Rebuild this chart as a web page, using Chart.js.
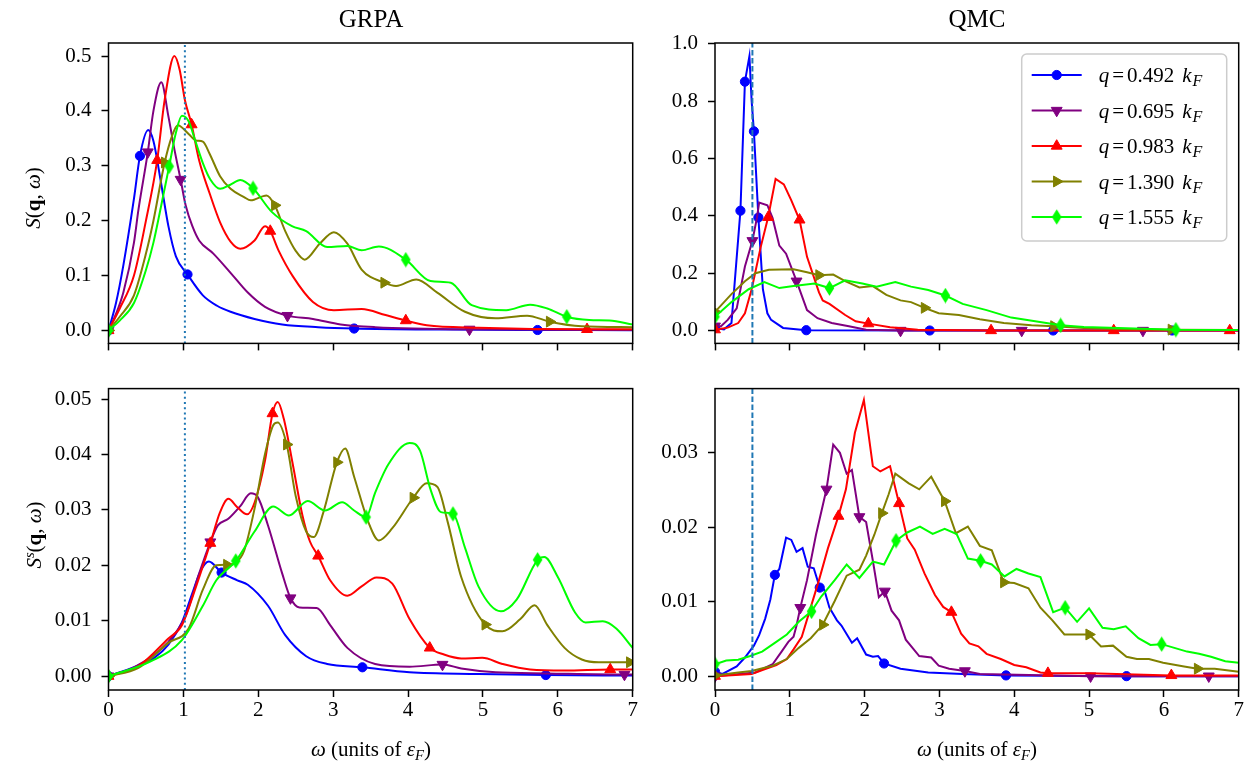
<!DOCTYPE html>
<html>
<head>
<meta charset="utf-8">
<script src="https://cdn.jsdelivr.net/npm/chart.js@4.4.1/dist/chart.umd.min.js"></script>
<style>
body { margin: 0; background: #fff; width: 1246px; height: 762px; position: relative; overflow: hidden; font-family: "Liberation Serif", serif; }
canvas { position: absolute; }
.t { position: absolute; font-size: 21px; line-height: 1; white-space: nowrap; transform: translate(-50%, -50%); color: #000; }
.rot { transform: translate(-50%, -50%) rotate(-90deg); }
.sub { font-size: 0.7em; position: relative; top: 0.25em; }
.sup { font-size: 0.7em; position: relative; top: -0.45em; }
</style>
</head>
<body>
<canvas id="cTL" width="640" height="366" style="left:0;top:0"></canvas>
<canvas id="cTR" width="606" height="366" style="left:640px;top:0"></canvas>
<canvas id="cBL" width="640" height="396" style="left:0;top:366px"></canvas>
<canvas id="cBR" width="606" height="396" style="left:640px;top:366px"></canvas>

<div class="t" style="left:371px;top:18px;font-size:25px">GRPA</div>
<div class="t" style="left:977px;top:18px;font-size:25px">QMC</div>
<div class="t" style="left:371px;top:749px"><i>ω</i> (units of <i>ε</i><span class="sub"><i>F</i></span>)</div>
<div class="t" style="left:977px;top:749px"><i>ω</i> (units of <i>ε</i><span class="sub"><i>F</i></span>)</div>
<div class="t rot" style="left:33px;top:198px"><i>S</i>(<b>q</b>, <i>ω</i>)</div>
<div class="t rot" style="left:34px;top:535px"><i>S</i><span class="sup"><i>s</i></span>(<b>q</b>, <i>ω</i>)</div>

<script>
// tick values
const xTicks = [0, 1, 2, 3, 4, 5, 6, 7]
const yTicksGrpaS = [0, 0.1, 0.2, 0.3, 0.4, 0.5]
const yTicksQmcS = [0, 0.2, 0.4, 0.6, 0.8, 1.0]
const yTicksGrpaSs = [0, 0.01, 0.02, 0.03, 0.04, 0.05]
const yTicksQmcSs = [0, 0.01, 0.02, 0.03]
const qLabels = ['0.492', '0.695', '0.983', '1.390', '1.555']
const vlineGrpa = 1.02
const vlineQmc = 0.5

// GRPA S(q,w)
const grpaS_0492 = [[0,0],[0.1,0.05],[0.2,0.12],[0.34,0.24],[0.42,0.318],[0.53,0.365],[0.6,0.345],[0.7,0.27],[0.8,0.19],[0.9,0.135],[1.055,0.102],[1.26,0.064],[1.45,0.045],[1.63,0.034],[1.95,0.021],[2.32,0.011],[2.8,0.006],[3.28,0.0035],[4.5,0.0015],[5.73,0.0008],[7,0.0005]]
const grpaS_0492_mk = [0, 0.42, 1.055, 3.28, 5.73]
const grpaS_0695 = [[0,0],[0.1,0.03],[0.2,0.07],[0.34,0.16],[0.4,0.22],[0.525,0.325],[0.6,0.40],[0.705,0.452],[0.8,0.39],[0.88,0.33],[0.963,0.275],[1.03,0.228],[1.12,0.19],[1.21,0.164],[1.40,0.14],[1.63,0.105],[1.86,0.069],[2.09,0.043],[2.39,0.027],[2.73,0.021],[3.10,0.011],[3.56,0.006],[4.82,0.002],[7,0.001]]
const grpaS_0695_mk = [0, 0.525, 0.963, 2.39, 4.82]
const grpaS_0983 = [[0,0],[0.15,0.04],[0.34,0.1],[0.5,0.2],[0.65,0.31],[0.75,0.42],[0.88,0.5],[0.95,0.475],[1.02,0.42],[1.11,0.375],[1.21,0.31],[1.35,0.25],[1.49,0.197],[1.63,0.162],[1.76,0.149],[1.95,0.164],[2.09,0.19],[2.16,0.181],[2.27,0.146],[2.46,0.099],[2.73,0.052],[3.01,0.037],[3.38,0.039],[3.70,0.028],[3.97,0.018],[4.25,0.0094],[4.94,0.005],[6.39,0.002],[7,0.002]]
const grpaS_0983_mk = [0, 0.65, 1.11, 2.16, 3.97, 6.39]
const grpaS_1390 = [[0,0],[0.15,0.025],[0.34,0.064],[0.5,0.14],[0.6,0.2],[0.75,0.306],[0.85,0.355],[0.925,0.374],[1.07,0.358],[1.17,0.346],[1.26,0.344],[1.35,0.322],[1.49,0.281],[1.63,0.258],[1.81,0.243],[1.90,0.237],[2.11,0.246],[2.22,0.228],[2.36,0.181],[2.50,0.145],[2.62,0.129],[2.82,0.158],[3.01,0.179],[3.19,0.158],[3.38,0.111],[3.68,0.087],[3.84,0.081],[4.11,0.093],[4.39,0.069],[4.76,0.034],[5.17,0.022],[5.59,0.027],[5.89,0.016],[6.32,0.0076],[7,0.006]]
const grpaS_1390_mk = [0, 0.75, 2.22, 3.68, 5.89]
const grpaS_1555 = [[0,0],[0.15,0.018],[0.34,0.05],[0.5,0.11],[0.6,0.16],[0.7,0.225],[0.81,0.299],[0.9,0.36],[0.98,0.391],[1.07,0.381],[1.16,0.345],[1.26,0.305],[1.36,0.275],[1.49,0.258],[1.62,0.265],[1.76,0.274],[1.93,0.259],[2.18,0.216],[2.45,0.19],[2.64,0.181],[2.92,0.152],[3.19,0.154],[3.38,0.146],[3.61,0.153],[3.97,0.129],[4.30,0.09],[4.57,0.087],[4.85,0.046],[5.31,0.037],[5.63,0.047],[5.86,0.04],[6.12,0.025],[6.42,0.019],[6.69,0.018],[7,0.011]]
const grpaS_1555_mk = [0, 0.81, 1.93, 3.97, 6.12]

// QMC S(q,w)
const qmcS_0492 = [[0,0.009],[0.12,0.004],[0.22,0.026],[0.34,0.418],[0.40,0.868],[0.46,0.957],[0.49,0.80],[0.52,0.695],[0.58,0.394],[0.64,0.144],[0.70,0.06],[0.75,0.037],[0.91,0.009],[1.22,0.001],[2.87,0],[4.52,0],[6.11,0],[7,0]]
const qmcS_0492_mk = [0, 0.34, 0.40, 0.52, 0.58, 1.22, 2.87, 4.52, 6.11]
const qmcS_0695 = [[0,0.015],[0.08,0.015],[0.17,0.037],[0.29,0.077],[0.40,0.223],[0.50,0.313],[0.56,0.392],[0.59,0.446],[0.70,0.437],[0.77,0.392],[0.86,0.296],[0.95,0.268],[1.09,0.172],[1.23,0.071],[1.37,0.043],[1.56,0.026],[1.79,0.015],[2.02,0.003],[2.48,0],[4.10,0],[5.72,0],[7,0]]
const qmcS_0695_mk = [0, 0.50, 1.09, 2.48, 4.10, 5.72]
const qmcS_0983 = [[0,0.003],[0.17,0.01],[0.31,0.026],[0.40,0.06],[0.49,0.144],[0.61,0.29],[0.71,0.395],[0.81,0.529],[0.92,0.51],[1.02,0.454],[1.13,0.386],[1.23,0.257],[1.39,0.133],[1.44,0.105],[1.53,0.093],[1.74,0.054],[1.88,0.032],[2.05,0.024],[2.34,0.011],[2.71,0.003],[3.69,0],[5.33,0],[6.88,0],[7,0]]
const qmcS_0983_mk = [0, 0.71, 1.13, 2.05, 3.69, 5.33, 6.88]
const qmcS_1390 = [[0,0.065],[0.22,0.127],[0.40,0.172],[0.54,0.2],[0.72,0.212],[1.05,0.214],[1.23,0.203],[1.39,0.193],[1.58,0.195],[1.74,0.172],[1.93,0.15],[2.11,0.155],[2.29,0.124],[2.48,0.105],[2.62,0.099],[2.80,0.079],[2.99,0.06],[3.26,0.054],[3.54,0.039],[3.86,0.026],[4.23,0.018],[4.53,0.015],[4.93,0.009],[5.39,0.005],[6.1,0.003],[7,0.002]]
const qmcS_1390_mk = [0, 1.39, 2.80, 4.53, 6.1]
const qmcS_1555 = [[0,0.048],[0.22,0.099],[0.45,0.144],[0.66,0.169],[0.86,0.148],[1.05,0.155],[1.33,0.164],[1.53,0.148],[1.74,0.175],[1.97,0.164],[2.16,0.153],[2.41,0.169],[2.62,0.153],[2.85,0.141],[3.08,0.122],[3.31,0.093],[3.63,0.071],[3.96,0.045],[4.28,0.032],[4.62,0.018],[4.93,0.012],[5.39,0.009],[6.16,0.003],[7,0.002]]
const qmcS_1555_mk = [0, 1.53, 3.08, 4.62, 6.16]

// GRPA S^s(q,w)
const grpaSs_0492 = [[0,0],[0.34,0.0016],[0.61,0.0033],[0.80,0.0057],[0.98,0.0097],[1.12,0.015],[1.23,0.019],[1.34,0.0207],[1.51,0.0187],[1.72,0.0173],[1.86,0.0165],[2.13,0.0127],[2.36,0.0074],[2.64,0.0036],[2.92,0.0022],[3.39,0.0016],[4.02,0.0007],[4.94,0.0004],[5.84,0.0002],[7,0.0001]]
const grpaSs_0492_mk = [0, 1.51, 3.39, 5.84]
const grpaSs_0695 = [[0,0],[0.34,0.0016],[0.80,0.0062],[1.03,0.0109],[1.21,0.0185],[1.36,0.0242],[1.46,0.0272],[1.60,0.0284],[1.76,0.0307],[1.90,0.033],[1.99,0.0324],[2.13,0.0272],[2.32,0.0185],[2.43,0.0141],[2.55,0.0124],[2.78,0.0123],[2.96,0.0092],[3.19,0.0051],[3.56,0.0022],[4.02,0.0017],[4.46,0.0021],[4.71,0.0014],[5.17,0.0007],[5.86,0.0005],[6.89,0.0003],[7,0.0003]]
const grpaSs_0695_mk = [0, 1.36, 2.43, 4.46, 6.89]
const grpaSs_0983 = [[0,0],[0.4,0.0018],[0.8,0.0068],[0.98,0.0092],[1.17,0.0162],[1.36,0.024],[1.49,0.0296],[1.60,0.032],[1.72,0.0305],[1.85,0.0292],[1.95,0.0313],[2.09,0.0389],[2.19,0.0474],[2.26,0.0495],[2.34,0.0465],[2.46,0.0383],[2.59,0.029],[2.69,0.0243],[2.80,0.0217],[2.96,0.0173],[3.19,0.0145],[3.38,0.0162],[3.58,0.0178],[3.79,0.0167],[4.02,0.0103],[4.29,0.0051],[4.48,0.0039],[4.71,0.0032],[4.99,0.0033],[5.26,0.0022],[5.63,0.0012],[6.09,0.001],[6.70,0.0012],[7,0.0012]]
const grpaSs_0983_mk = [0, 1.36, 2.19, 2.80, 4.29, 6.70]
const grpaSs_1390 = [[0,0],[0.4,0.0015],[0.8,0.006],[1.07,0.0086],[1.26,0.0156],[1.44,0.02],[1.58,0.0201],[1.70,0.0205],[1.81,0.0226],[1.95,0.0302],[2.09,0.0401],[2.20,0.0453],[2.26,0.0458],[2.38,0.0418],[2.50,0.0325],[2.64,0.0261],[2.74,0.0251],[2.87,0.0296],[3.05,0.0386],[3.16,0.0411],[3.28,0.036],[3.47,0.0278],[3.61,0.0245],[3.79,0.0267],[4.07,0.0322],[4.25,0.0348],[4.39,0.0342],[4.53,0.0278],[4.71,0.0179],[5.03,0.0093],[5.26,0.0081],[5.50,0.0103],[5.69,0.0128],[5.86,0.0092],[6.09,0.0051],[6.32,0.003],[6.55,0.0025],[6.96,0.0025],[7,0.0025]]
const grpaSs_1390_mk = [0, 1.58, 2.38, 3.05, 4.07, 5.03, 6.96]
const grpaSs_1555 = [[0,0],[0.57,0.0027],[0.98,0.0065],[1.26,0.0127],[1.44,0.0173],[1.70,0.0208],[1.95,0.0261],[2.20,0.0306],[2.41,0.029],[2.66,0.0316],[2.89,0.0299],[3.12,0.0314],[3.28,0.0299],[3.44,0.0287],[3.56,0.0331],[3.74,0.0383],[4.02,0.0421],[4.16,0.0407],[4.30,0.0337],[4.44,0.0296],[4.60,0.0293],[4.76,0.0232],[4.94,0.0162],[5.24,0.0117],[5.45,0.0138],[5.73,0.021],[5.82,0.0215],[6.00,0.0179],[6.23,0.0115],[6.37,0.0097],[6.60,0.0099],[6.78,0.0086],[7,0.0051]]
const grpaSs_1555_mk = [0, 1.70, 3.44, 4.60, 5.73]

// QMC S^s(q,w)
const qmcSs_0492 = [[0,0.0006],[0.1,0.0003],[0.29,0.0013],[0.40,0.0025],[0.52,0.0041],[0.59,0.0055],[0.67,0.0077],[0.74,0.0103],[0.80,0.0136],[0.86,0.0144],[0.95,0.0186],[1.02,0.0183],[1.09,0.0167],[1.17,0.0172],[1.24,0.0147],[1.32,0.0145],[1.40,0.0119],[1.46,0.0116],[1.53,0.0092],[1.63,0.0075],[1.69,0.0068],[1.83,0.0045],[1.90,0.0051],[2.02,0.0029],[2.11,0.0026],[2.18,0.0027],[2.26,0.0017],[2.48,0.001],[2.85,0.0005],[3.31,0.0003],[3.89,0.0001],[5.50,0],[7,0]]
const qmcSs_0492_mk = [0, 0.80, 1.40, 2.26, 3.89, 5.50]
const qmcSs_0695 = [[0,0],[0.54,0.0005],[0.77,0.0016],[0.89,0.0033],[0.98,0.0046],[1.05,0.0053],[1.09,0.0068],[1.14,0.0092],[1.23,0.0129],[1.35,0.019],[1.49,0.0251],[1.58,0.0311],[1.67,0.03],[1.76,0.0272],[1.83,0.0277],[1.93,0.0214],[2.02,0.0207],[2.11,0.0155],[2.19,0.0106],[2.27,0.0114],[2.36,0.0088],[2.46,0.0075],[2.55,0.0049],[2.64,0.0038],[2.73,0.0027],[2.89,0.0025],[2.99,0.0014],[3.13,0.001],[3.34,0.0007],[3.54,0.0003],[5.02,0],[6.60,0],[7,0]]
const qmcSs_0695_mk = [0, 1.14, 1.49, 1.93, 2.27, 3.34, 5.02, 6.60]
const qmcSs_0983 = [[0,0],[0.49,0.0003],[0.68,0.001],[0.82,0.0015],[0.96,0.0023],[1.05,0.0036],[1.16,0.0053],[1.26,0.0086],[1.39,0.0129],[1.51,0.0172],[1.65,0.0215],[1.75,0.0251],[1.87,0.0327],[1.99,0.0371],[2.11,0.0282],[2.21,0.0275],[2.34,0.0282],[2.46,0.0232],[2.57,0.0185],[2.67,0.017],[2.80,0.0138],[2.94,0.0109],[3.05,0.0093],[3.16,0.0086],[3.29,0.0057],[3.40,0.0044],[3.52,0.004],[3.63,0.003],[3.82,0.0023],[4.00,0.0015],[4.16,0.0012],[4.35,0.0005],[4.45,0.0004],[5.0,0.0004],[6.10,0.0001],[7,0.0001]]
const qmcSs_0983_mk = [0, 1.65, 2.46, 3.16, 4.45, 6.10]
const qmcSs_1390 = [[0,0.0001],[0.31,0.0005],[0.49,0.0007],[0.77,0.0014],[0.96,0.0023],[1.12,0.0038],[1.28,0.0051],[1.44,0.0069],[1.60,0.0101],[1.76,0.0135],[1.93,0.0143],[2.02,0.0162],[2.13,0.019],[2.23,0.0219],[2.32,0.0244],[2.41,0.0272],[2.59,0.0259],[2.73,0.0251],[2.89,0.0268],[3.07,0.0235],[3.22,0.0192],[3.38,0.0201],[3.54,0.0175],[3.70,0.0169],[3.86,0.0126],[4.00,0.0125],[4.19,0.0118],[4.35,0.0092],[4.51,0.0075],[4.67,0.0056],[4.88,0.0056],[5.00,0.0056],[5.16,0.004],[5.32,0.0041],[5.50,0.0026],[5.64,0.0023],[5.80,0.0023],[5.99,0.0018],[6.27,0.0013],[6.45,0.001],[6.68,0.001],[7,0.0006]]
const qmcSs_1390_mk = [0, 1.44, 2.23, 3.07, 3.86, 5.00, 6.45]
const qmcSs_1555 = [[0,0.0016],[0.15,0.0021],[0.31,0.0022],[0.47,0.0027],[0.63,0.0033],[0.79,0.0044],[0.96,0.0056],[1.12,0.0073],[1.29,0.0087],[1.42,0.0107],[1.60,0.0129],[1.76,0.015],[1.93,0.0132],[2.11,0.0154],[2.26,0.015],[2.42,0.0182],[2.57,0.0193],[2.74,0.0201],[2.91,0.0191],[3.07,0.0198],[3.23,0.0191],[3.38,0.0158],[3.55,0.0155],[3.70,0.015],[3.87,0.0134],[4.03,0.0144],[4.19,0.0138],[4.35,0.0133],[4.52,0.0086],[4.68,0.0092],[4.84,0.0073],[5.00,0.0091],[5.18,0.0065],[5.33,0.0063],[5.49,0.0067],[5.66,0.0051],[5.82,0.0042],[5.97,0.0043],[6.14,0.0038],[6.31,0.0033],[6.47,0.003],[6.63,0.0026],[6.82,0.002],[7,0.0018]]
const qmcSs_1555_mk = [0, 1.29, 2.42, 3.55, 4.68, 5.97]

const colors = ['#0000ff', '#800080', '#ff0000', '#808000', '#00ff00']
const font = { family: '"Liberation Serif", serif', size: 21 }

// thin diamond marker like matplotlib 'd'
function thinDiamond(color) {
    const c = document.createElement('canvas')
    c.width = 11; c.height = 16
    const g = c.getContext('2d')
    g.fillStyle = color
    g.beginPath()
    g.moveTo(5.5, 0.3); g.lineTo(10.3, 8); g.lineTo(5.5, 15.7); g.lineTo(0.7, 8)
    g.closePath(); g.fill()
    return c
}
const markers = [
    { style: 'circle', rot: 0, r: 4.6 },
    { style: 'triangle', rot: 180, r: 6.3 },
    { style: 'triangle', rot: 0, r: 6.3 },
    { style: 'triangle', rot: 90, r: 6.3 },
    { style: thinDiamond(colors[4]), rot: 0, r: 5 }
]

function lineSet(pts, marks, i, smooth) {
    const m = markers[i]
    return {
        data: pts.map(p => ({ x: p[0], y: p[1] })),
        borderColor: colors[i],
        backgroundColor: colors[i],
        borderWidth: 2,
        pointStyle: m.style,
        pointRotation: m.rot,
        pointRadius: c => (c.raw && marks.includes(c.raw.x)) ? m.r : 0,
        pointHoverRadius: 0,
        pointBackgroundColor: colors[i],
        pointBorderColor: colors[i],
        pointBorderWidth: 1,
        cubicInterpolationMode: smooth ? 'monotone' : 'default',
        tension: 0,
        order: 10 - i
    }
}

function vline(x, yMin, yMax, dash) {
    return {
        data: [{ x: x, y: yMin }, { x: x, y: yMax }],
        borderColor: '#1f77b4',
        borderWidth: 2,
        borderDash: dash,
        pointRadius: 0,
        order: -1
    }
}

const framePlugin = {
    id: 'frame',
    afterDatasetsDraw(chart) {
        const { ctx, chartArea: a } = chart
        ctx.save()
        ctx.strokeStyle = '#000'
        ctx.lineWidth = 1.5
        ctx.strokeRect(a.left, a.top, a.right - a.left, a.bottom - a.top)
        ctx.restore()
    }
}

const legendPlugin = {
    id: 'qlegend',
    afterDraw(chart) {
        const ctx = chart.ctx, a = chart.chartArea
        const w = 205, h = 187
        const x0 = a.right - 12 - w, y0 = a.top + 11
        ctx.save()
        ctx.beginPath()
        ctx.roundRect(x0, y0, w, h, 5)
        ctx.fillStyle = 'rgba(255,255,255,0.8)'
        ctx.fill()
        ctx.strokeStyle = '#cccccc'
        ctx.lineWidth = 1.5
        ctx.stroke()
        qLabels.forEach((lab, i) => {
            const y = y0 + 21 + i * 35.5
            ctx.strokeStyle = colors[i]
            ctx.fillStyle = colors[i]
            ctx.lineWidth = 2
            ctx.beginPath()
            ctx.moveTo(x0 + 10, y); ctx.lineTo(x0 + 60, y)
            ctx.stroke()
            const m = markers[i]
            ctx.lineWidth = 1
            Chart.helpers.drawPoint(ctx, { pointStyle: m.style, rotation: m.rot, radius: m.r, borderWidth: 1 }, x0 + 35, y)
            ctx.fillStyle = '#000'
            ctx.textBaseline = 'alphabetic'
            const base = y + 7
            let tx = x0 + 77
            ctx.font = 'italic 21px "Liberation Serif"'
            ctx.fillText('q', tx, base)
            tx += ctx.measureText('q').width + 3
            ctx.font = '21px "Liberation Serif"'
            ctx.fillText('=', tx, base)
            tx += ctx.measureText('=').width + 3
            ctx.fillText(lab, tx, base)
            tx += ctx.measureText(lab).width + 8
            ctx.font = 'italic 21px "Liberation Serif"'
            ctx.fillText('k', tx, base)
            tx += ctx.measureText('k').width + 1
            ctx.font = 'italic 16px "Liberation Serif"'
            ctx.fillText('F', tx, base + 4)
        })
        ctx.restore()
    }
}

function makeChart(id, datasets, o) {
    return new Chart(document.getElementById(id), {
        type: 'line',
        data: { datasets: datasets },
        options: {
            responsive: false,
            animation: false,
            events: [],
            layout: { padding: { left: 0, right: o.padRight, top: o.padTop, bottom: 0 } },
            plugins: { legend: { display: false }, tooltip: { enabled: false } },
            scales: {
                x: {
                    type: 'linear', min: 0, max: 7,
                    afterBuildTicks: s => { s.ticks = xTicks.map(v => ({ value: v })) },
                    afterFit: s => { s.height = o.xHeight },
                    ticks: { display: o.xLabels, font: font, color: '#000', padding: 1, maxRotation: 0, autoSkip: false, callback: v => String(v) },
                    grid: { drawOnChartArea: false, drawTicks: true, tickLength: 7, tickWidth: 1.5, tickColor: '#000', color: '#000' },
                    border: { display: false }
                },
                y: {
                    type: 'linear', min: o.yMin, max: o.yMax,
                    afterBuildTicks: s => { s.ticks = o.yTicks.map(v => ({ value: v })) },
                    afterFit: s => { s.width = o.yWidth },
                    ticks: { font: font, color: '#000', padding: 10, autoSkip: false, callback: v => v.toFixed(o.dec) },
                    grid: { drawOnChartArea: false, drawTicks: true, tickLength: 7, tickWidth: 1.5, tickColor: '#000', color: '#000' },
                    border: { display: false }
                }
            }
        },
        plugins: o.plugins
    })
}

// top left: GRPA S
const tlY = [-0.0236, 0.5237]
makeChart('cTL', [
    lineSet(grpaS_0492, grpaS_0492_mk, 0, true),
    lineSet(grpaS_0695, grpaS_0695_mk, 1, true),
    lineSet(grpaS_0983, grpaS_0983_mk, 2, true),
    lineSet(grpaS_1390, grpaS_1390_mk, 3, true),
    lineSet(grpaS_1555, grpaS_1555_mk, 4, true),
    vline(vlineGrpa, tlY[0], tlY[1], [2, 3.2])
], { yMin: tlY[0], yMax: tlY[1], yTicks: yTicksGrpaS, dec: 1, yWidth: 108.5, padRight: 7, padTop: 43, xHeight: 13, xLabels: false, plugins: [framePlugin] })

// top right: QMC S
const trY = [-0.045, 1.003]
makeChart('cTR', [
    lineSet(qmcS_0492, qmcS_0492_mk, 0, false),
    lineSet(qmcS_0695, qmcS_0695_mk, 1, false),
    lineSet(qmcS_0983, qmcS_0983_mk, 2, false),
    lineSet(qmcS_1390, qmcS_1390_mk, 3, false),
    lineSet(qmcS_1555, qmcS_1555_mk, 4, false),
    vline(vlineQmc, trY[0], trY[1], [5.5, 2.5])
], { yMin: trY[0], yMax: trY[1], yTicks: yTicksQmcS, dec: 1, yWidth: 75, padRight: 6, padTop: 43, xHeight: 13, xLabels: false, plugins: [framePlugin, legendPlugin] })

// bottom left: GRPA S^s
const blY = [-0.0025, 0.0519]
makeChart('cBL', [
    lineSet(grpaSs_0492, grpaSs_0492_mk, 0, true),
    lineSet(grpaSs_0695, grpaSs_0695_mk, 1, true),
    lineSet(grpaSs_0983, grpaSs_0983_mk, 2, true),
    lineSet(grpaSs_1390, grpaSs_1390_mk, 3, true),
    lineSet(grpaSs_1555, grpaSs_1555_mk, 4, true),
    vline(vlineGrpa, blY[0], blY[1], [2, 3.2])
], { yMin: blY[0], yMax: blY[1], yTicks: yTicksGrpaSs, dec: 2, yWidth: 108.5, padRight: 7, padTop: 13, xHeight: 72, xLabels: true, plugins: [framePlugin] })

// bottom right: QMC S^s
const brY = [-0.00186, 0.03863]
makeChart('cBR', [
    lineSet(qmcSs_0492, qmcSs_0492_mk, 0, false),
    lineSet(qmcSs_0695, qmcSs_0695_mk, 1, false),
    lineSet(qmcSs_0983, qmcSs_0983_mk, 2, false),
    lineSet(qmcSs_1390, qmcSs_1390_mk, 3, false),
    lineSet(qmcSs_1555, qmcSs_1555_mk, 4, false),
    vline(vlineQmc, brY[0], brY[1], [5.5, 2.5])
], { yMin: brY[0], yMax: brY[1], yTicks: yTicksQmcSs, dec: 2, yWidth: 75, padRight: 6, padTop: 13, xHeight: 72, xLabels: true, plugins: [framePlugin] })
</script>
</body>
</html>
